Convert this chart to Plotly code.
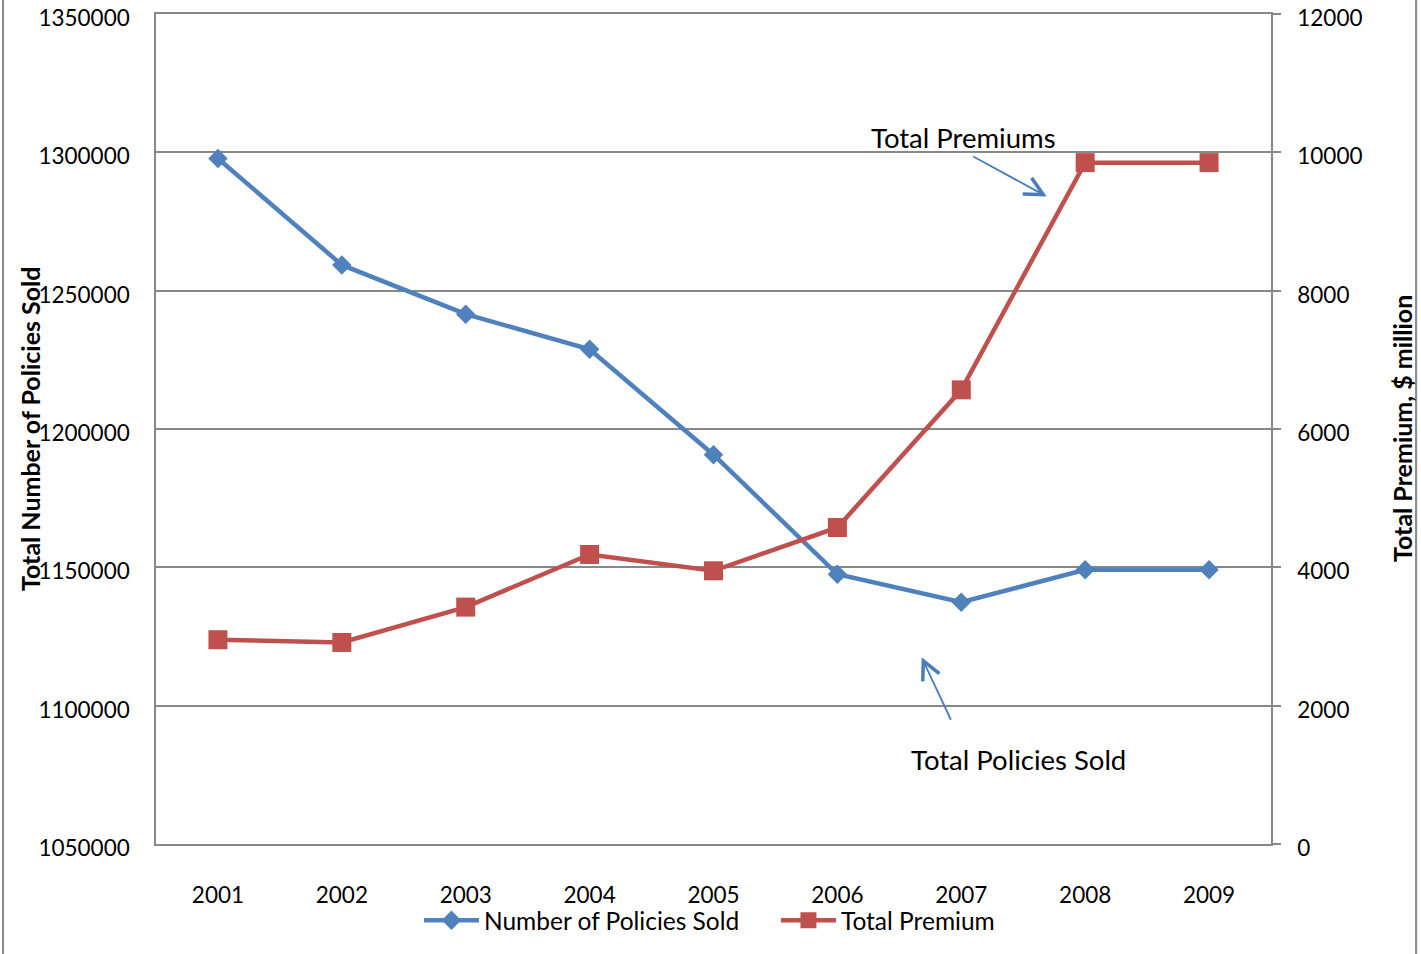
import plotly.graph_objects as go

# Annual figures
years = [2001, 2002, 2003, 2004, 2005, 2006, 2007, 2008, 2009]
policies_sold = [1297800, 1259300, 1241500, 1228800, 1190700, 1147500, 1137400, 1149100, 1149100]
total_premium = [2953, 2914, 3425, 4186, 3950, 4576, 6566, 9851, 9851]

left_ticks = [1050000, 1100000, 1150000, 1200000, 1250000, 1300000, 1350000]
right_ticks = [0, 2000, 4000, 6000, 8000, 10000, 12000]

BLUE = "#4F81BD"
RED = "#C0504D"
GREY = "#888888"
FONT = "Lato"

fig = go.Figure()

fig.add_trace(go.Scatter(
    x=years, y=policies_sold, name="Number of Policies Sold",
    mode="lines+markers",
    line=dict(color=BLUE, width=4.5),
    marker=dict(symbol="diamond", size=15, color=BLUE),
    yaxis="y",
))
fig.add_trace(go.Scatter(
    x=years, y=total_premium, name="Total Premium",
    mode="lines+markers",
    line=dict(color=RED, width=4.5),
    marker=dict(symbol="square", size=19, color=RED),
    yaxis="y2",
))

fig.update_layout(
    width=1421, height=954,
    margin=dict(l=156, r=150, t=14, b=110, autoexpand=False),
    paper_bgcolor="white", plot_bgcolor="white",
    font=dict(family=FONT, size=22.5, color="black"),
    showlegend=True,
    legend=dict(orientation="h", x=0.556, xanchor="center", y=-0.092, yanchor="middle",
                font=dict(size=24.5), bgcolor="rgba(0,0,0,0)", itemwidth=55,
                entrywidth=287, entrywidthmode="pixels", tracegroupgap=0),
    xaxis=dict(
        range=[2000.5, 2009.5], tickmode="array", tickvals=years,
        ticktext=[str(y) for y in years],
        showgrid=False, zeroline=False, automargin=False,
        showline=True, linecolor=GREY, linewidth=1.5, mirror=True,
        ticks="", ticklabelstandoff=30,
    ),
    yaxis=dict(
        range=[1050000, 1350000], tickmode="array", tickvals=left_ticks,
        tickformat="d", automargin=False,
        showgrid=True, gridcolor=GREY, gridwidth=1.5, zeroline=False,
        showline=True, linecolor=GREY, linewidth=1.5,
        ticks="", ticklabelstandoff=20, ticklabelshift=4,
        ticklabeloverflow="allow",
    ),
    yaxis2=dict(
        range=[0, 12000], tickmode="array", tickvals=right_ticks,
        tickformat="d", overlaying="y", side="right", automargin=False,
        showgrid=False, zeroline=False,
        showline=True, linecolor=GREY, linewidth=1.5,
        ticks="outside", ticklen=8, tickcolor=GREY, tickwidth=1.5,
        ticklabelstandoff=12, ticklabelshift=4,
        ticklabeloverflow="allow",
    ),
)

# Axis titles
fig.add_annotation(text="<b>Total Number of Policies Sold</b>", textangle=-90,
                   xref="paper", yref="paper", x=-0.1130, y=0.5,
                   xanchor="center", yanchor="middle", showarrow=False,
                   font=dict(size=25))
fig.add_annotation(text="<b>Total Premium, $ million</b>", textangle=-90,
                   xref="paper", yref="paper", x=1.1175, y=0.5,
                   xanchor="center", yanchor="middle", showarrow=False,
                   font=dict(size=25))

# Callout labels with arrows
fig.add_annotation(text="Total Premiums", x=2007.02, y=1305200, xref="x", yref="y",
                   showarrow=False, font=dict(size=27.5))
fig.add_annotation(text="", x=2007.69, y=1284000, xref="x", yref="y",
                   ax=-75, ay=-41, showarrow=True, arrowhead=5, arrowsize=2,
                   arrowwidth=1.8, arrowcolor="#4A7EBB", standoff=0)
fig.add_annotation(text="Total Policies Sold", x=2007.46, y=1080500, xref="x", yref="y",
                   showarrow=False, font=dict(size=27.5))
fig.add_annotation(text="", x=2006.68, y=1117500, xref="x", yref="y",
                   ax=30, ay=64, showarrow=True, arrowhead=5, arrowsize=2,
                   arrowwidth=1.8, arrowcolor="#4A7EBB", standoff=0)

# Chart-area border lines at left and right edges
for xp in (-0.1372, 1.1301):
    fig.add_shape(type="line", xref="paper", yref="paper",
                  x0=xp, x1=xp, y0=-0.135, y1=1.02,
                  line=dict(color=GREY, width=2))

fig.write_html("out.html")
